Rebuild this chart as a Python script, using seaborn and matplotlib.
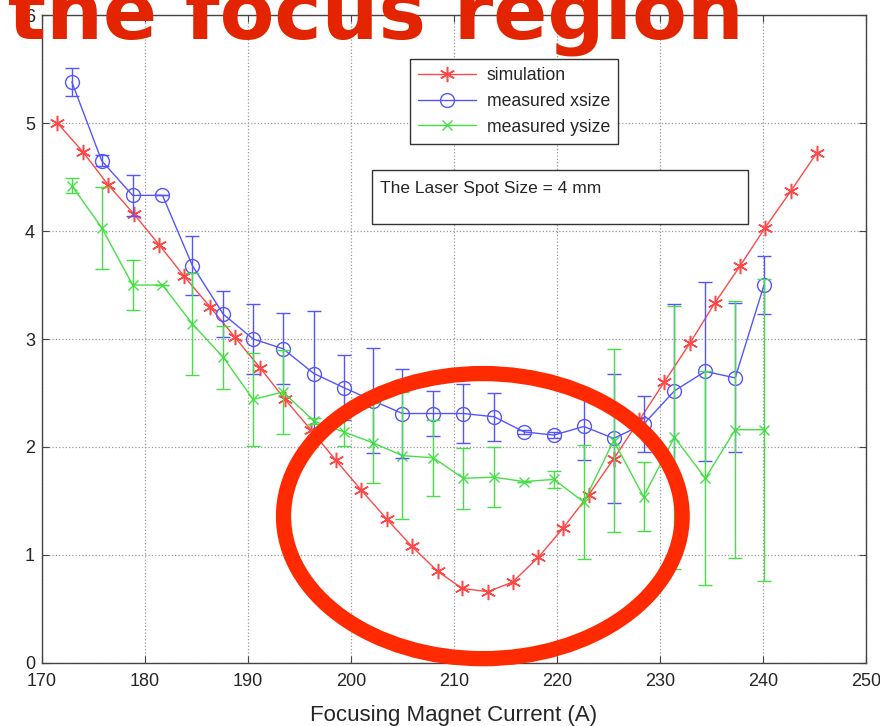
import numpy as np
import pandas as pd
import matplotlib
matplotlib.use("Agg")
import matplotlib.pyplot as plt
from matplotlib.patches import Ellipse, Rectangle
import seaborn as sns

# simulated spot size vs focusing current
sim_x = [171.5, 174.0, 176.4, 178.9, 181.4, 183.8, 186.3, 188.7, 191.2, 193.6, 196.1,
         198.5, 201.0, 203.5, 205.9, 208.4, 210.8, 213.3, 215.7, 218.2, 220.6, 223.1,
         225.5, 228.0, 230.4, 232.9, 235.3, 237.8, 240.2, 242.7, 245.2]
sim_y = [5.00, 4.73, 4.43, 4.16, 3.87, 3.58, 3.30, 3.02, 2.73, 2.44, 2.16,
         1.88, 1.60, 1.33, 1.08, 0.85, 0.69, 0.66, 0.75, 0.98, 1.25, 1.56,
         1.89, 2.25, 2.60, 2.96, 3.33, 3.68, 4.03, 4.37, 4.72]

# measured points (same currents for x and y)
meas_x = [172.9, 175.8, 178.8, 181.7, 184.6, 187.6, 190.5, 193.4, 196.4, 199.3, 202.1, 205.0,
          208.0, 210.9, 213.9, 216.8, 219.7, 222.6, 225.5, 228.4, 231.4, 234.4, 237.3, 240.1]
xsize = [5.38, 4.65, 4.33, 4.33, 3.68, 3.23, 3.00, 2.91, 2.68, 2.55, 2.43, 2.31,
         2.31, 2.31, 2.28, 2.14, 2.11, 2.19, 2.08, 2.21, 2.52, 2.70, 2.64, 3.50]
xsize_err = [0.13, 0.05, 0.19, 0.0, 0.27, 0.21, 0.32, 0.33, 0.58, 0.30, 0.49, 0.41,
             0.21, 0.27, 0.22, 0.02, 0.03, 0.31, 0.60, 0.26, 0.80, 0.83, 0.69, 0.27]
ysize = [4.42, 4.03, 3.50, 3.50, 3.14, 2.83, 2.44, 2.51, 2.24, 2.14, 2.04, 1.92,
         1.90, 1.71, 1.72, 1.68, 1.70, 1.49, 2.06, 1.54, 2.09, 1.71, 2.16, 2.16]
ysize_err = [0.07, 0.38, 0.23, 0.0, 0.47, 0.29, 0.43, 0.39, 0.03, 0.13, 0.37, 0.59,
             0.35, 0.28, 0.28, 0.0, 0.08, 0.53, 0.85, 0.32, 1.22, 0.99, 1.19, 1.40]

x_ticks = [170, 180, 190, 200, 210, 220, 230, 240, 250]
y_ticks = [0, 1, 2, 3, 4, 5, 6]

sns.set_style("whitegrid")
plt.rcParams['font.family'] = ['Liberation Sans', 'DejaVu Sans']

RED = '#ff4848'
BLUE = '#5555ff'
GREEN = '#45e045'
ASTERISK = (6, 2, 0)

fig = plt.figure(figsize=(8.8, 7.26), dpi=100)
ax = fig.add_axes([0.0477, 0.0868, 0.9364, 0.8925])

sim = pd.DataFrame({'x': sim_x, 'y': sim_y})
meas = pd.DataFrame({'x': meas_x, 'xs': xsize, 'xe': xsize_err,
                     'ys': ysize, 'ye': ysize_err})

sns.lineplot(data=sim, x='x', y='y', ax=ax, color=RED, lw=1, marker=ASTERISK, ms=11,
             mec=RED, mfc=RED, mew=1.1, label='simulation', sort=False)
sns.lineplot(data=meas, x='x', y='xs', ax=ax, color=BLUE, lw=1, marker='o', ms=10,
             mec=BLUE, mfc='none', mew=1, label='measured xsize', sort=False)
sns.lineplot(data=meas, x='x', y='ys', ax=ax, color=GREEN, lw=1, marker='x', ms=7,
             mec=GREEN, mew=1, label='measured ysize', sort=False)

ax.errorbar(meas['x'], meas['xs'], yerr=meas['xe'], fmt='none', ecolor=BLUE,
            elinewidth=1, capsize=5, capthick=1)
ax.errorbar(meas['x'], meas['ys'], yerr=meas['ye'], fmt='none', ecolor=GREEN,
            elinewidth=1, capsize=5, capthick=1)

ax.set_xlim(170, 250)
ax.set_ylim(0, 6)
ax.set_xticks(x_ticks)
ax.set_yticks(y_ticks)
ax.set_xlabel('Focusing Magnet Current (A)', fontsize=16, labelpad=11)
ax.set_ylabel('')
ax.grid(True, color='#999999', linestyle=':', linewidth=0.9)
for s in ax.spines.values():
    s.set_visible(True)
    s.set_color('#444444')
    s.set_linewidth(1)
ax.tick_params(direction='in', length=5, width=0.8, color='#444444', labelsize=13,
               top=True, right=True, bottom=True, left=True)
ax.tick_params(axis='x', pad=7)
ax.tick_params(axis='y', pad=5)

handles, labels = ax.get_legend_handles_labels()
leg = ax.legend(handles, labels, loc='upper left', bbox_to_anchor=(0.4466, 0.932),
                borderaxespad=0, fancybox=False, framealpha=1, edgecolor='#333333',
                fontsize=12.7, handlelength=3.3, labelspacing=0.5, borderpad=0.45,
                handletextpad=0.6)
leg.get_frame().set_linewidth(1)

# annotation box
ax.add_patch(Rectangle((0.4005, 0.6775), 0.4563, 0.0833, transform=ax.transAxes,
                       facecolor='white', edgecolor='#333333', lw=1, zorder=5))
ax.text(0.410, 0.733, 'The Laser Spot Size = 4 mm', transform=ax.transAxes,
        fontsize=12.5, va='center', ha='left', zorder=6)

# red ring around the focus region
ax.add_patch(Ellipse((212.8, 1.36), 38.7, 2.64, facecolor='none', edgecolor='#ff2a00',
                     lw=11, clip_on=False, zorder=10))

fig.text(0.009, 0.947, 'the focus region', fontsize=57.5, fontweight='bold',
         color='#e32400', family='DejaVu Sans', ha='left', va='baseline', zorder=20)

fig.savefig('out.png', dpi=100)
